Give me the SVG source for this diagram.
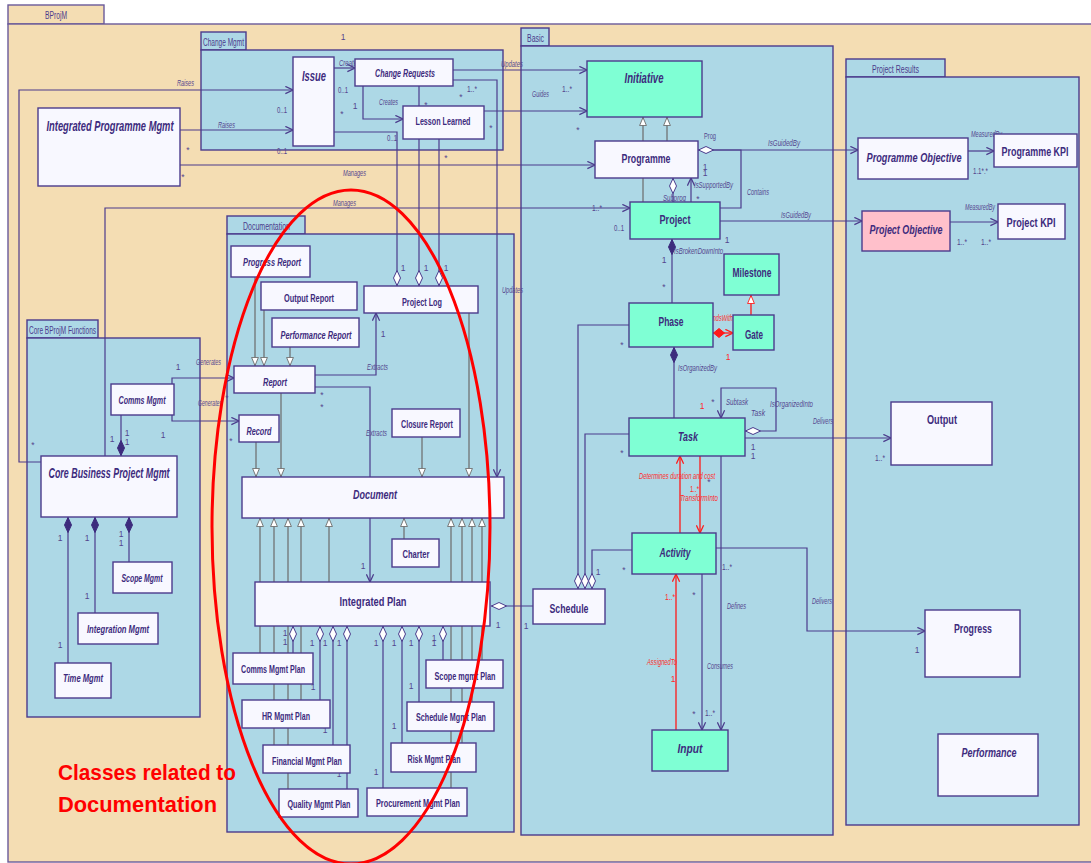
<svg xmlns="http://www.w3.org/2000/svg" width="1091" height="863" viewBox="0 0 1091 863">
<style>
.pk{fill:#add8e6;stroke:#4b3b8c;stroke-width:1.4}
.bg{fill:#f4ddb3;stroke:#6a5a9a;stroke-width:1.4}
.tab{font-family:"Liberation Sans Narrow","Liberation Sans",Arial,sans-serif;font-size:10px;fill:#4b3b8c}
.n{fill:#f8f8ff;stroke:#4b3b8c;stroke-width:1.4}
.g{fill:#7fffd4;stroke:#4b3b8c;stroke-width:1.4}
.p{fill:#ffc0cb;stroke:#4b3b8c;stroke-width:1.4}
.t{font-family:"Liberation Sans Narrow","Liberation Sans",Arial,sans-serif;font-weight:bold;fill:#3d2b7d;text-anchor:middle}
.i{font-style:italic}
.c{fill:none;stroke:#4b3b8c;stroke-width:1.2}
.gr{fill:none;stroke:#6b6b6b;stroke-width:1.2}
.rd{fill:none;stroke:#ff1a1a;stroke-width:1.3}
.l{font-family:"Liberation Sans Narrow","Liberation Sans",Arial,sans-serif;font-size:8.5px;fill:#54468e}
.li{font-style:italic}
.lr{fill:#ff2a2a}
.m{text-anchor:middle}
</style>
<defs>
<marker id="arr" viewBox="0 0 10 10" refX="9.5" refY="5" markerWidth="9" markerHeight="9" orient="auto" markerUnits="userSpaceOnUse"><path d="M1,1 L9.5,5 L1,9" fill="none" stroke="#4b3b8c" stroke-width="1.4"/></marker>
<marker id="rarr" viewBox="0 0 10 10" refX="9.5" refY="5" markerWidth="9" markerHeight="9" orient="auto" markerUnits="userSpaceOnUse"><path d="M1,1 L9.5,5 L1,9" fill="none" stroke="#ff1a1a" stroke-width="1.4"/></marker>
<marker id="tri" viewBox="0 0 10 10" refX="10" refY="5" markerWidth="9" markerHeight="9" orient="auto" markerUnits="userSpaceOnUse"><path d="M0.5,1.2 L9.5,5 L0.5,8.8 Z" fill="#ffffff" stroke="#6b6b6b" stroke-width="1"/></marker>
<marker id="rtri" viewBox="0 0 10 10" refX="10" refY="5" markerWidth="9" markerHeight="9" orient="auto" markerUnits="userSpaceOnUse"><path d="M0.5,1.2 L9.5,5 L0.5,8.8 Z" fill="#ffffff" stroke="#ff1a1a" stroke-width="1"/></marker>
<marker id="dS" viewBox="0 0 16 8" refX="0" refY="4" markerWidth="16" markerHeight="8" orient="auto" markerUnits="userSpaceOnUse"><path d="M0.5,4 L8,0.5 L15.5,4 L8,7.5 Z" fill="#ffffff" stroke="#4b3b8c" stroke-width="1"/></marker>
<marker id="dE" viewBox="0 0 16 8" refX="16" refY="4" markerWidth="16" markerHeight="8" orient="auto" markerUnits="userSpaceOnUse"><path d="M0.5,4 L8,0.5 L15.5,4 L8,7.5 Z" fill="#ffffff" stroke="#4b3b8c" stroke-width="1"/></marker>
<marker id="fdS" viewBox="0 0 16 8" refX="0" refY="4" markerWidth="16" markerHeight="8" orient="auto" markerUnits="userSpaceOnUse"><path d="M0.5,4 L8,0.5 L15.5,4 L8,7.5 Z" fill="#3d2b7d" stroke="#3d2b7d" stroke-width="1"/></marker>
<marker id="rdS" viewBox="0 0 12 10" refX="0" refY="5" markerWidth="12" markerHeight="10" orient="auto" markerUnits="userSpaceOnUse"><path d="M0.5,5 L6,0.5 L11.5,5 L6,9.5 Z" fill="#ff1a1a" stroke="#ff1a1a" stroke-width="1"/></marker>
</defs>
<rect x="0" y="0" width="1091" height="863" fill="#ffffff"/>
<g id="frame">
<rect class="bg" x="8" y="5" width="96" height="19"/>
<rect class="bg" x="8" y="24" width="1100" height="838"/>
<text class="tab" x="45" y="19" textLength="22" lengthAdjust="spacingAndGlyphs">BProjM</text>
</g>
<g id="packages">
<rect class="pk" x="201" y="32" width="45" height="18"/>
<rect class="pk" x="201" y="50" width="302" height="100"/>
<text class="tab" x="203" y="46" textLength="41" lengthAdjust="spacingAndGlyphs">Change Mgmt</text>
<rect class="pk" x="521" y="28" width="28" height="18"/>
<rect class="pk" x="521" y="46" width="312" height="789"/>
<text class="tab" x="527" y="42" textLength="17" lengthAdjust="spacingAndGlyphs">Basic</text>
<rect class="pk" x="846" y="59" width="99" height="18"/>
<rect class="pk" x="846" y="77" width="233" height="748"/>
<text class="tab" x="872" y="73" textLength="47" lengthAdjust="spacingAndGlyphs">Project Results</text>
<rect class="pk" x="227" y="216" width="78" height="18"/>
<rect class="pk" x="227" y="234" width="287" height="598"/>
<text class="tab" x="243" y="230" textLength="47" lengthAdjust="spacingAndGlyphs">Documentation</text>
<rect class="pk" x="27" y="320" width="71" height="18"/>
<rect class="pk" x="27" y="338" width="173" height="379"/>
<text class="tab" x="29" y="334" textLength="67" lengthAdjust="spacingAndGlyphs">Core BProjM Functions</text>
</g>
<g id="connectors">
<path class="c" d="M41,462 H19 V90 H293" marker-end="url(#arr)"/>
<path class="c" d="M180,130 H293" marker-end="url(#arr)"/>
<path class="c" d="M180,165 H595" marker-end="url(#arr)"/>
<path class="c" d="M105,456 V208 H630" marker-end="url(#arr)"/>
<path class="c" d="M334,68 H355" marker-end="url(#arr)"/>
<path class="c" d="M363,86 V119 H403" marker-end="url(#arr)"/>
<path class="c" d="M453,70 H587" marker-end="url(#arr)"/>
<path class="c" d="M484,111 H587" marker-end="url(#arr)"/>
<path class="c" d="M334,132 H397 V286" marker-end="url(#dE)"/>
<path class="c" d="M419,86 V286" marker-end="url(#dE)"/>
<path class="c" d="M439,139 V286" marker-end="url(#dE)"/>
<path class="c" d="M453,80 H497 V477" marker-end="url(#arr)"/>
<path class="gr" d="M643,141 V117" marker-end="url(#tri)"/>
<path class="gr" d="M667,141 V117" marker-end="url(#tri)"/>
<path class="gr" d="M643,202 V178"/>
<path class="c" d="M673,178 V202" marker-start="url(#dS)"/>
<path class="c" d="M691,202 V178" marker-end="url(#arr)"/>
<path class="c" d="M698,150 H858" marker-start="url(#dS)" marker-end="url(#arr)"/>
<path class="c" d="M713,150 H741 V208 H720"/>
<path class="c" d="M720,221 H862" marker-end="url(#arr)"/>
<path class="c" d="M968,151 H994" marker-end="url(#arr)"/>
<path class="c" d="M950,222 H998" marker-end="url(#arr)"/>
<path class="c" d="M672,239 V303" marker-start="url(#fdS)"/>
<path class="rd" d="M713,333 H733" marker-start="url(#rdS)" marker-end="url(#rarr)"/>
<path class="rd" d="M751,315 V295" marker-end="url(#rtri)"/>
<path class="c" d="M674,347 V418" marker-start="url(#fdS)"/>
<path class="c" d="M745,431 H776 V388 H721 V418" marker-start="url(#dS)" marker-end="url(#arr)"/>
<path class="c" d="M745,438 H891" marker-end="url(#arr)"/>
<path class="c" d="M629,325 H578 V589" marker-end="url(#dE)"/>
<path class="c" d="M629,434 H585 V589" marker-end="url(#dE)"/>
<path class="c" d="M632,550 H592 V589" marker-end="url(#dE)"/>
<path class="c" d="M533,606 H491" marker-end="url(#dE)"/>
<path class="rd" d="M680,533 V456" marker-end="url(#rarr)"/>
<path class="rd" d="M700,456 V533" marker-end="url(#rarr)"/>
<path class="c" d="M721,456 V730" marker-end="url(#arr)"/>
<path class="c" d="M702,574 V730" marker-end="url(#arr)"/>
<path class="rd" d="M676,730 V574" marker-end="url(#rarr)"/>
<path class="c" d="M716,548 H807 V631 H925" marker-end="url(#arr)"/>
<path class="gr" d="M255,277 V366" marker-end="url(#tri)"/>
<path class="gr" d="M264,310 V366" marker-end="url(#tri)"/>
<path class="gr" d="M290,347 V366" marker-end="url(#tri)"/>
<path class="c" d="M315,375 H376 V313" marker-end="url(#arr)"/>
<path class="c" d="M315,387 H370 V477"/>
<path class="gr" d="M281,393 V477" marker-end="url(#tri)"/>
<path class="gr" d="M256,442 V477" marker-end="url(#tri)"/>
<path class="gr" d="M422,437 V477" marker-end="url(#tri)"/>
<path class="gr" d="M469,313 V477" marker-end="url(#tri)"/>
<path class="c" d="M172,384 V378 H234" marker-end="url(#arr)"/>
<path class="c" d="M172,415 V421 H239" marker-end="url(#arr)"/>
<path class="c" d="M121,456 V415" marker-start="url(#fdS)"/>
<path class="c" d="M68,517 V663" marker-start="url(#fdS)"/>
<path class="c" d="M95,517 V613" marker-start="url(#fdS)"/>
<path class="c" d="M129,517 V562" marker-start="url(#fdS)"/>
<path class="c" d="M370,518 V582" marker-end="url(#arr)"/>
<path class="gr" d="M404,539 V518" marker-end="url(#tri)"/>
<path class="gr" d="M329,582 V518" marker-end="url(#tri)"/>
<path class="gr" d="M260,653 V518" marker-end="url(#tri)"/>
<path class="gr" d="M274,745 V518" marker-end="url(#tri)"/>
<path class="gr" d="M288,789 V518" marker-end="url(#tri)"/>
<path class="gr" d="M301,700 V518" marker-end="url(#tri)"/>
<path class="gr" d="M451,788 V518" marker-end="url(#tri)"/>
<path class="gr" d="M462,743 V518" marker-end="url(#tri)"/>
<path class="gr" d="M472,702 V518" marker-end="url(#tri)"/>
<path class="gr" d="M482,660 V518" marker-end="url(#tri)"/>
<path class="c" d="M293,626 V653" marker-start="url(#dS)"/>
<path class="c" d="M320,626 V700" marker-start="url(#dS)"/>
<path class="c" d="M333,626 V745" marker-start="url(#dS)"/>
<path class="c" d="M347,626 V789" marker-start="url(#dS)"/>
<path class="c" d="M383,626 V788" marker-start="url(#dS)"/>
<path class="c" d="M402,626 V743" marker-start="url(#dS)"/>
<path class="c" d="M419,626 V702" marker-start="url(#dS)"/>
<path class="c" d="M443,626 V660" marker-start="url(#dS)"/>
</g>
<g id="labels">
<text class="l m" x="343" y="40">1</text>
<text class="l li" x="177" y="86" textLength="17" lengthAdjust="spacingAndGlyphs">Raises</text>
<text class="l li" x="218" y="128" textLength="17" lengthAdjust="spacingAndGlyphs">Raises</text>
<text class="l" x="277" y="113" textLength="10" lengthAdjust="spacingAndGlyphs">0..1</text>
<text class="l" x="277" y="154" textLength="10" lengthAdjust="spacingAndGlyphs">0..1</text>
<text class="l m" x="188" y="153">*</text>
<text class="l m" x="183" y="180">*</text>
<text class="l li" x="343" y="176" textLength="23" lengthAdjust="spacingAndGlyphs">Manages</text>
<text class="l li" x="333" y="206" textLength="23" lengthAdjust="spacingAndGlyphs">Manages</text>
<text class="l li" x="339" y="66" textLength="21" lengthAdjust="spacingAndGlyphs">Creates</text>
<text class="l" x="338" y="93" textLength="10" lengthAdjust="spacingAndGlyphs">0..1</text>
<text class="l m" x="355" y="109">1</text>
<text class="l m" x="342" y="117">*</text>
<text class="l li" x="379" y="105" textLength="19" lengthAdjust="spacingAndGlyphs">Creates</text>
<text class="l m" x="426" y="108">*</text>
<text class="l" x="467" y="92" textLength="10" lengthAdjust="spacingAndGlyphs">1..*</text>
<text class="l m" x="461" y="100">*</text>
<text class="l m" x="491" y="131">*</text>
<text class="l" x="387" y="141" textLength="10" lengthAdjust="spacingAndGlyphs">0..1</text>
<text class="l m" x="446" y="161">*</text>
<text class="l li" x="501" y="67" textLength="22" lengthAdjust="spacingAndGlyphs">Updates</text>
<text class="l li" x="532" y="97" textLength="17" lengthAdjust="spacingAndGlyphs">Guides</text>
<text class="l" x="562" y="92" textLength="10" lengthAdjust="spacingAndGlyphs">1..*</text>
<text class="l m" x="578" y="133">*</text>
<text class="l" x="704" y="139" textLength="12" lengthAdjust="spacingAndGlyphs">Prog</text>
<text class="l li" x="768" y="146" textLength="32" lengthAdjust="spacingAndGlyphs">IsGuidedBy</text>
<text class="l li" x="971" y="137" textLength="31" lengthAdjust="spacingAndGlyphs">MeasuredBy</text>
<text class="l" x="973" y="174" textLength="15" lengthAdjust="spacingAndGlyphs">1.1*.*</text>
<text class="l li" x="663" y="201" textLength="23" lengthAdjust="spacingAndGlyphs">Subprog</text>
<text class="l li" x="694" y="188" textLength="39" lengthAdjust="spacingAndGlyphs">IsSupportedBy</text>
<text class="l m" x="705" y="170">1</text>
<text class="l m" x="705" y="176">1</text>
<text class="l m" x="698" y="202">*</text>
<text class="l li" x="747" y="195" textLength="22" lengthAdjust="spacingAndGlyphs">Contains</text>
<text class="l" x="592" y="211" textLength="10" lengthAdjust="spacingAndGlyphs">1..*</text>
<text class="l" x="614" y="231" textLength="10" lengthAdjust="spacingAndGlyphs">0..1</text>
<text class="l li" x="781" y="218" textLength="30" lengthAdjust="spacingAndGlyphs">IsGuidedBy</text>
<text class="l li" x="965" y="210" textLength="30" lengthAdjust="spacingAndGlyphs">MeasuredBy</text>
<text class="l" x="957" y="245" textLength="10" lengthAdjust="spacingAndGlyphs">1..*</text>
<text class="l" x="981" y="245" textLength="10" lengthAdjust="spacingAndGlyphs">1..*</text>
<text class="l m" x="727" y="243">1</text>
<text class="l li" x="674" y="254" textLength="49" lengthAdjust="spacingAndGlyphs">IsBrokenDownInto</text>
<text class="l m" x="664" y="263">1</text>
<text class="l m" x="664" y="290">*</text>
<text class="l li lr" x="709" y="321" textLength="24" lengthAdjust="spacingAndGlyphs">EndsWith</text>
<text class="l lr m" x="728" y="360">1</text>
<text class="l li" x="678" y="371" textLength="39" lengthAdjust="spacingAndGlyphs">IsOrganizedBy</text>
<text class="l m" x="713" y="405">*</text>
<text class="l lr m" x="702" y="409">1</text>
<text class="l li" x="726" y="405" textLength="22" lengthAdjust="spacingAndGlyphs">Subtask</text>
<text class="l li" x="751" y="416" textLength="14" lengthAdjust="spacingAndGlyphs">Task</text>
<text class="l li" x="770" y="407" textLength="43" lengthAdjust="spacingAndGlyphs">IsOrganizedInto</text>
<text class="l li" x="813" y="424" textLength="20" lengthAdjust="spacingAndGlyphs">Delivers</text>
<text class="l m" x="753" y="450">1</text>
<text class="l m" x="753" y="459">1</text>
<text class="l m" x="622" y="348">*</text>
<text class="l m" x="622" y="456">*</text>
<text class="l li lr" x="639" y="479" textLength="76" lengthAdjust="spacingAndGlyphs">Determines duration and cost</text>
<text class="l m" x="709" y="485">*</text>
<text class="l lr" x="690" y="492" textLength="9" lengthAdjust="spacingAndGlyphs">1..*</text>
<text class="l li lr" x="680" y="501" textLength="38" lengthAdjust="spacingAndGlyphs">TransformInto</text>
<text class="l m" x="624" y="573">*</text>
<text class="l m" x="598" y="575">1</text>
<text class="l m" x="526" y="629">1</text>
<text class="l m" x="498" y="628">1</text>
<text class="l" x="722" y="570" textLength="10" lengthAdjust="spacingAndGlyphs">1..*</text>
<text class="l li" x="727" y="609" textLength="19" lengthAdjust="spacingAndGlyphs">Defines</text>
<text class="l m" x="694" y="598">*</text>
<text class="l lr" x="665" y="600" textLength="10" lengthAdjust="spacingAndGlyphs">1..*</text>
<text class="l li lr" x="647" y="665" textLength="30" lengthAdjust="spacingAndGlyphs">AssignedTo</text>
<text class="l lr m" x="673" y="682">1</text>
<text class="l li" x="707" y="669" textLength="26" lengthAdjust="spacingAndGlyphs">Consumes</text>
<text class="l m" x="694" y="717">*</text>
<text class="l" x="705" y="716" textLength="10" lengthAdjust="spacingAndGlyphs">1..*</text>
<text class="l li" x="812" y="604" textLength="20" lengthAdjust="spacingAndGlyphs">Delivers</text>
<text class="l m" x="917" y="653">1</text>
<text class="l" x="875" y="461" textLength="10" lengthAdjust="spacingAndGlyphs">1..*</text>
<text class="l m" x="403" y="271">1</text>
<text class="l m" x="426" y="271">1</text>
<text class="l m" x="446" y="271">1</text>
<text class="l li" x="502" y="293" textLength="21" lengthAdjust="spacingAndGlyphs">Updates</text>
<text class="l li" x="367" y="370" textLength="21" lengthAdjust="spacingAndGlyphs">Extracts</text>
<text class="l m" x="383" y="337">1</text>
<text class="l m" x="322" y="398">*</text>
<text class="l m" x="322" y="410">*</text>
<text class="l li" x="366" y="436" textLength="21" lengthAdjust="spacingAndGlyphs">Extracts</text>
<text class="l li" x="196" y="365" textLength="25" lengthAdjust="spacingAndGlyphs">Generates</text>
<text class="l m" x="178" y="370">1</text>
<text class="l li" x="198" y="406" textLength="24" lengthAdjust="spacingAndGlyphs">Generates</text>
<text class="l m" x="227" y="401">*</text>
<text class="l m" x="231" y="444">*</text>
<text class="l m" x="112" y="442">1</text>
<text class="l m" x="127" y="436">1</text>
<text class="l m" x="127" y="445">1</text>
<text class="l m" x="163" y="438">1</text>
<text class="l m" x="33" y="448">*</text>
<text class="l m" x="60" y="541">1</text>
<text class="l m" x="87" y="541">1</text>
<text class="l m" x="121" y="537">1</text>
<text class="l m" x="121" y="546">1</text>
<text class="l m" x="87" y="599">1</text>
<text class="l m" x="60" y="648">1</text>
<text class="l m" x="363" y="569">1</text>
<text class="l m" x="285" y="636">1</text>
<text class="l m" x="285" y="645">1</text>
<text class="l m" x="312" y="646">1</text>
<text class="l m" x="325" y="646">1</text>
<text class="l m" x="339" y="646">1</text>
<text class="l m" x="376" y="646">1</text>
<text class="l m" x="394" y="646">1</text>
<text class="l m" x="411" y="646">1</text>
<text class="l m" x="434" y="641">1</text>
<text class="l m" x="434" y="646">1</text>
<text class="l m" x="313" y="690">1</text>
<text class="l m" x="325" y="733">1</text>
<text class="l m" x="339" y="777">1</text>
<text class="l m" x="411" y="689">1</text>
<text class="l m" x="394" y="729">1</text>
<text class="l m" x="376" y="775">1</text>
</g>
<g id="issue"><rect class="n" x="293" y="57" width="41" height="89"/><text class="t i" x="314" y="81" font-size="15" textLength="24" lengthAdjust="spacingAndGlyphs">Issue</text></g>
<g id="changeRequests"><rect class="n" x="355" y="59" width="98" height="27"/><text class="t i" x="405" y="77" font-size="11" textLength="60" lengthAdjust="spacingAndGlyphs">Change Requests</text></g>
<g id="lessonLearned"><rect class="n" x="403" y="106" width="81" height="33"/><text class="t" x="443" y="125" font-size="11" textLength="55" lengthAdjust="spacingAndGlyphs">Lesson Learned</text></g>
<g id="integratedProgrammeMgmt"><rect class="n" x="38" y="108" width="142" height="78"/><text class="t i" x="110" y="131" font-size="15" textLength="127" lengthAdjust="spacingAndGlyphs">Integrated Programme Mgmt</text></g>
<g id="initiative"><rect class="g" x="587" y="61" width="115" height="56"/><text class="t i" x="644" y="83" font-size="14" textLength="39" lengthAdjust="spacingAndGlyphs">Initiative</text></g>
<g id="programme"><rect class="n" x="595" y="141" width="103" height="37"/><text class="t" x="646" y="163" font-size="13" textLength="49" lengthAdjust="spacingAndGlyphs">Programme</text></g>
<g id="project"><rect class="g" x="630" y="202" width="90" height="37"/><text class="t" x="675" y="224" font-size="13" textLength="31" lengthAdjust="spacingAndGlyphs">Project</text></g>
<g id="milestone"><rect class="g" x="724" y="254" width="55" height="41"/><text class="t" x="752" y="277" font-size="13" textLength="39" lengthAdjust="spacingAndGlyphs">Milestone</text></g>
<g id="phase"><rect class="g" x="629" y="303" width="84" height="44"/><text class="t" x="671" y="326" font-size="13" textLength="25" lengthAdjust="spacingAndGlyphs">Phase</text></g>
<g id="gate"><rect class="g" x="733" y="315" width="41" height="35"/><text class="t" x="754" y="339" font-size="13" textLength="18" lengthAdjust="spacingAndGlyphs">Gate</text></g>
<g id="task"><rect class="g" x="629" y="418" width="116" height="38"/><text class="t i" x="688" y="441" font-size="13" textLength="20" lengthAdjust="spacingAndGlyphs">Task</text></g>
<g id="activity"><rect class="g" x="632" y="533" width="84" height="41"/><text class="t i" x="675" y="557" font-size="13" textLength="31" lengthAdjust="spacingAndGlyphs">Activity</text></g>
<g id="schedule"><rect class="n" x="533" y="589" width="72" height="35"/><text class="t" x="569" y="613" font-size="13" textLength="39" lengthAdjust="spacingAndGlyphs">Schedule</text></g>
<g id="input"><rect class="g" x="652" y="730" width="76" height="41"/><text class="t i" x="690" y="753" font-size="13" textLength="25" lengthAdjust="spacingAndGlyphs">Input</text></g>
<g id="programmeObjective"><rect class="n" x="858" y="138" width="110" height="41"/><text class="t i" x="914" y="162" font-size="13" textLength="95" lengthAdjust="spacingAndGlyphs">Programme Objective</text></g>
<g id="programmeKPI"><rect class="n" x="994" y="134" width="83" height="33"/><text class="t" x="1035" y="156" font-size="13" textLength="67" lengthAdjust="spacingAndGlyphs">Programme KPI</text></g>
<g id="projectObjective"><rect class="p" x="862" y="211" width="88" height="40"/><text class="t i" x="906" y="234" font-size="13" textLength="73" lengthAdjust="spacingAndGlyphs">Project Objective</text></g>
<g id="projectKPI"><rect class="n" x="998" y="204" width="67" height="35"/><text class="t" x="1031" y="227" font-size="13" textLength="49" lengthAdjust="spacingAndGlyphs">Project KPI</text></g>
<g id="output"><rect class="n" x="891" y="402" width="101" height="63"/><text class="t" x="942" y="424" font-size="13" textLength="30" lengthAdjust="spacingAndGlyphs">Output</text></g>
<g id="progress"><rect class="n" x="925" y="610" width="95" height="67"/><text class="t" x="973" y="633" font-size="13" textLength="38" lengthAdjust="spacingAndGlyphs">Progress</text></g>
<g id="performance"><rect class="n" x="938" y="734" width="100" height="62"/><text class="t i" x="989" y="757" font-size="13" textLength="55" lengthAdjust="spacingAndGlyphs">Performance</text></g>
<g id="progressReport"><rect class="n" x="231" y="246" width="79" height="31"/><text class="t i" x="272" y="266" font-size="11" textLength="58" lengthAdjust="spacingAndGlyphs">Progress Report</text></g>
<g id="outputReport"><rect class="n" x="261" y="282" width="96" height="28"/><text class="t" x="309" y="302" font-size="11" textLength="50" lengthAdjust="spacingAndGlyphs">Output Report</text></g>
<g id="performanceReport"><rect class="n" x="272" y="318" width="87" height="29"/><text class="t i" x="316" y="339" font-size="11" textLength="71" lengthAdjust="spacingAndGlyphs">Performance Report</text></g>
<g id="projectLog"><rect class="n" x="364" y="286" width="114" height="27"/><text class="t" x="422" y="306" font-size="11" textLength="40" lengthAdjust="spacingAndGlyphs">Project Log</text></g>
<g id="report"><rect class="n" x="234" y="366" width="81" height="27"/><text class="t i" x="275" y="386" font-size="11" textLength="24" lengthAdjust="spacingAndGlyphs">Report</text></g>
<g id="record"><rect class="n" x="239" y="415" width="40" height="27"/><text class="t i" x="259" y="435" font-size="11" textLength="25" lengthAdjust="spacingAndGlyphs">Record</text></g>
<g id="closureReport"><rect class="n" x="392" y="409" width="68" height="28"/><text class="t" x="427" y="428" font-size="11" textLength="52" lengthAdjust="spacingAndGlyphs">Closure Report</text></g>
<g id="document"><rect class="n" x="242" y="477" width="262" height="41"/><text class="t i" x="375" y="499" font-size="13" textLength="44" lengthAdjust="spacingAndGlyphs">Document</text></g>
<g id="charter"><rect class="n" x="392" y="539" width="47" height="28"/><text class="t" x="416" y="558" font-size="11" textLength="27" lengthAdjust="spacingAndGlyphs">Charter</text></g>
<g id="integratedPlan"><rect class="n" x="255" y="582" width="235" height="44"/><text class="t" x="373" y="606" font-size="13" textLength="67" lengthAdjust="spacingAndGlyphs">Integrated Plan</text></g>
<g id="commsMgmtPlan"><rect class="n" x="233" y="653" width="80" height="31"/><text class="t" x="273" y="673" font-size="11" textLength="64" lengthAdjust="spacingAndGlyphs">Comms Mgmt Plan</text></g>
<g id="hrMgmtPlan"><rect class="n" x="242" y="700" width="88" height="28"/><text class="t" x="286" y="720" font-size="11" textLength="48" lengthAdjust="spacingAndGlyphs">HR Mgmt Plan</text></g>
<g id="financialMgmtPlan"><rect class="n" x="263" y="745" width="87" height="28"/><text class="t" x="307" y="765" font-size="11" textLength="70" lengthAdjust="spacingAndGlyphs">Financial Mgmt Plan</text></g>
<g id="qualityMgmtPlan"><rect class="n" x="279" y="789" width="79" height="28"/><text class="t" x="319" y="808" font-size="11" textLength="63" lengthAdjust="spacingAndGlyphs">Quality Mgmt Plan</text></g>
<g id="procurementMgmtPlan"><rect class="n" x="367" y="788" width="100" height="28"/><text class="t" x="418" y="807" font-size="11" textLength="84" lengthAdjust="spacingAndGlyphs">Procurement Mgmt Plan</text></g>
<g id="riskMgmtPlan"><rect class="n" x="391" y="743" width="85" height="29"/><text class="t" x="434" y="763" font-size="11" textLength="53" lengthAdjust="spacingAndGlyphs">Risk Mgmt Plan</text></g>
<g id="scheduleMgmtPlan"><rect class="n" x="407" y="702" width="87" height="29"/><text class="t" x="451" y="721" font-size="11" textLength="70" lengthAdjust="spacingAndGlyphs">Schedule Mgmt Plan</text></g>
<g id="scopeMgmtPlan"><rect class="n" x="426" y="660" width="77" height="28"/><text class="t" x="465" y="680" font-size="11" textLength="61" lengthAdjust="spacingAndGlyphs">Scope mgmt Plan</text></g>
<g id="commsMgmt"><rect class="n" x="111" y="384" width="63" height="31"/><text class="t i" x="142" y="404" font-size="11" textLength="47" lengthAdjust="spacingAndGlyphs">Comms Mgmt</text></g>
<g id="coreBusinessProjectMgmt"><rect class="n" x="41" y="456" width="136" height="61"/><text class="t i" x="109" y="478" font-size="14" textLength="121" lengthAdjust="spacingAndGlyphs">Core Business Project Mgmt</text></g>
<g id="scopeMgmt"><rect class="n" x="113" y="562" width="59" height="31"/><text class="t i" x="142" y="582" font-size="11" textLength="41" lengthAdjust="spacingAndGlyphs">Scope Mgmt</text></g>
<g id="integrationMgmt"><rect class="n" x="78" y="613" width="80" height="31"/><text class="t i" x="118" y="633" font-size="11" textLength="62" lengthAdjust="spacingAndGlyphs">Integration Mgmt</text></g>
<g id="timeMgmt"><rect class="n" x="55" y="663" width="56" height="35"/><text class="t i" x="83" y="682" font-size="11" textLength="40" lengthAdjust="spacingAndGlyphs">Time Mgmt</text></g>
<g id="annotation">
<ellipse cx="351" cy="527" rx="139" ry="337" fill="none" stroke="#ff0000" stroke-width="3"/>
<text x="58" y="780" font-family="'Liberation Sans',Arial,sans-serif" font-weight="bold" font-size="22" fill="#ff0000" textLength="178" lengthAdjust="spacingAndGlyphs">Classes related to</text>
<text x="58" y="812" font-family="'Liberation Sans',Arial,sans-serif" font-weight="bold" font-size="22" fill="#ff0000" textLength="159" lengthAdjust="spacingAndGlyphs">Documentation</text>
</g>
</svg>
